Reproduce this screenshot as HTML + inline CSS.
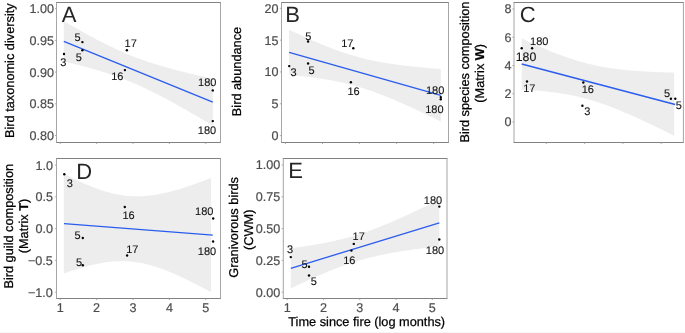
<!DOCTYPE html>
<html><head><meta charset="utf-8"><title>Figure</title>
<style>
html,body{margin:0;padding:0;background:#fff;}
body{width:685px;height:333px;overflow:hidden;}
svg{display:block;will-change:transform;opacity:0.999;}
svg text{font-family:"Liberation Sans",sans-serif;text-rendering:geometricPrecision;paint-order:stroke;stroke-width:0.25px;}
svg text.k{stroke:#000;} svg text.t{stroke:#4d4d4d;stroke-width:0.2px;} svg text.l{stroke:#111;stroke-width:0.1px;} svg text.p{stroke:none;}
</style></head><body>
<svg width="685" height="333" viewBox="0 0 685 333">
<rect width="685" height="333" fill="#ffffff"/>
<rect x="0" y="332" width="685" height="1" fill="#f7f7f7"/>
<clipPath id="ca"><rect x="56.50" y="2.50" width="164.00" height="140.00"/></clipPath>
<path d="M63.80,21.11 L66.28,22.56 L68.77,24.00 L71.25,25.43 L73.73,26.85 L76.22,28.27 L78.70,29.67 L81.18,31.06 L83.67,32.45 L86.15,33.82 L88.63,35.18 L91.12,36.52 L93.60,37.85 L96.08,39.16 L98.57,40.46 L101.05,41.74 L103.53,43.01 L106.02,44.25 L108.50,45.48 L110.98,46.68 L113.47,47.86 L115.95,49.02 L118.43,50.16 L120.92,51.27 L123.40,52.36 L125.88,53.42 L128.37,54.46 L130.85,55.47 L133.33,56.46 L135.82,57.42 L138.30,58.36 L140.78,59.27 L143.27,60.16 L145.75,61.03 L148.23,61.88 L150.72,62.70 L153.20,63.50 L155.68,64.28 L158.17,65.05 L160.65,65.79 L163.13,66.52 L165.62,67.23 L168.10,67.93 L170.58,68.62 L173.07,69.29 L175.55,69.94 L178.03,70.59 L180.52,71.22 L183.00,71.85 L185.48,72.46 L187.97,73.07 L190.45,73.66 L192.93,74.25 L195.42,74.83 L197.90,75.41 L200.38,75.97 L202.87,76.54 L205.35,77.09 L207.83,77.64 L210.32,78.19 L212.80,78.73 L212.80,125.67 L210.32,124.18 L207.83,122.70 L205.35,121.22 L202.87,119.74 L200.38,118.28 L197.90,116.81 L195.42,115.36 L192.93,113.91 L190.45,112.47 L187.97,111.03 L185.48,109.61 L183.00,108.19 L180.52,106.79 L178.03,105.39 L175.55,104.01 L173.07,102.63 L170.58,101.27 L168.10,99.93 L165.62,98.60 L163.13,97.28 L160.65,95.98 L158.17,94.69 L155.68,93.43 L153.20,92.18 L150.72,90.95 L148.23,89.74 L145.75,88.56 L143.27,87.40 L140.78,86.26 L138.30,85.14 L135.82,84.05 L133.33,82.98 L130.85,81.94 L128.37,80.92 L125.88,79.93 L123.40,78.96 L120.92,78.02 L118.43,77.10 L115.95,76.21 L113.47,75.34 L110.98,74.49 L108.50,73.66 L106.02,72.86 L103.53,72.07 L101.05,71.31 L98.57,70.56 L96.08,69.83 L93.60,69.11 L91.12,68.41 L88.63,67.72 L86.15,67.05 L83.67,66.39 L81.18,65.75 L78.70,65.11 L76.22,64.48 L73.73,63.87 L71.25,63.26 L68.77,62.66 L66.28,62.07 L63.80,61.49Z" fill="#ededed" clip-path="url(#ca)"/>
<line x1="63.80" y1="41.30" x2="212.80" y2="102.20" stroke="#2a5cee" stroke-width="1.3"/>
<circle cx="64.00" cy="54.00" r="1.2" fill="#000"/>
<circle cx="82.40" cy="42.10" r="1.2" fill="#000"/>
<circle cx="82.40" cy="50.20" r="1.2" fill="#000"/>
<circle cx="126.90" cy="50.20" r="1.2" fill="#000"/>
<circle cx="124.90" cy="70.10" r="1.2" fill="#000"/>
<circle cx="212.80" cy="90.40" r="1.2" fill="#000"/>
<circle cx="212.80" cy="121.10" r="1.2" fill="#000"/>
<text class="l" x="63.40" y="65.60" font-size="11" text-anchor="middle" fill="#111">3</text>
<text class="l" x="77.60" y="41.00" font-size="11" text-anchor="middle" fill="#111">5</text>
<text class="l" x="78.85" y="61.00" font-size="11" text-anchor="middle" fill="#111">5</text>
<text class="l" x="130.65" y="47.10" font-size="11" text-anchor="middle" fill="#111">17</text>
<text class="l" x="117.30" y="80.30" font-size="11" text-anchor="middle" fill="#111">16</text>
<text class="l" x="207.25" y="85.60" font-size="11" text-anchor="middle" fill="#111">180</text>
<text class="l" x="207.05" y="133.50" font-size="11" text-anchor="middle" fill="#111">180</text>
<path d="M56.00,2.50 H221.00 M56.00,142.50 H221.00" fill="none" stroke="#828282" stroke-width="1"/>
<path d="M56.50,2.50 V142.50 M220.50,2.50 V142.50" fill="none" stroke="#a6a6a6" stroke-width="1"/>
<line x1="54.90" y1="8.70" x2="56.50" y2="8.70" stroke="#999999" stroke-width="0.8"/>
<text class="t" x="53.90" y="13.15" font-size="12.6" text-anchor="end" fill="#4d4d4d">1.00</text>
<line x1="54.90" y1="40.40" x2="56.50" y2="40.40" stroke="#999999" stroke-width="0.8"/>
<text class="t" x="53.90" y="44.85" font-size="12.6" text-anchor="end" fill="#4d4d4d">0.95</text>
<line x1="54.90" y1="72.10" x2="56.50" y2="72.10" stroke="#999999" stroke-width="0.8"/>
<text class="t" x="53.90" y="76.55" font-size="12.6" text-anchor="end" fill="#4d4d4d">0.90</text>
<line x1="54.90" y1="103.80" x2="56.50" y2="103.80" stroke="#999999" stroke-width="0.8"/>
<text class="t" x="53.90" y="108.25" font-size="12.6" text-anchor="end" fill="#4d4d4d">0.85</text>
<line x1="54.90" y1="135.50" x2="56.50" y2="135.50" stroke="#999999" stroke-width="0.8"/>
<text class="t" x="53.90" y="139.95" font-size="12.6" text-anchor="end" fill="#4d4d4d">0.80</text>
<line x1="60.21" y1="142.50" x2="60.21" y2="144.10" stroke="#999999" stroke-width="0.8"/>
<line x1="96.60" y1="142.50" x2="96.60" y2="144.10" stroke="#999999" stroke-width="0.8"/>
<line x1="132.99" y1="142.50" x2="132.99" y2="144.10" stroke="#999999" stroke-width="0.8"/>
<line x1="169.39" y1="142.50" x2="169.39" y2="144.10" stroke="#999999" stroke-width="0.8"/>
<line x1="205.78" y1="142.50" x2="205.78" y2="144.10" stroke="#999999" stroke-width="0.8"/>
<text class="p" x="61.80" y="21.80" font-size="22" fill="#262626">A</text>
<text class="k" transform="translate(13.70,138.00) rotate(-90)" font-size="12.75" text-anchor="start" fill="#000">Bird taxonomic diversity</text>
<clipPath id="cb"><rect x="281.50" y="2.50" width="167.00" height="140.00"/></clipPath>
<path d="M289.10,29.69 L291.63,30.89 L294.16,32.08 L296.69,33.26 L299.21,34.44 L301.74,35.60 L304.27,36.75 L306.80,37.90 L309.33,39.02 L311.86,40.14 L314.38,41.24 L316.91,42.33 L319.44,43.39 L321.97,44.45 L324.50,45.48 L327.03,46.50 L329.55,47.49 L332.08,48.46 L334.61,49.42 L337.14,50.34 L339.67,51.25 L342.20,52.13 L344.72,52.98 L347.25,53.80 L349.78,54.60 L352.31,55.37 L354.84,56.11 L357.37,56.83 L359.89,57.52 L362.42,58.17 L364.95,58.80 L367.48,59.41 L370.01,59.98 L372.54,60.53 L375.06,61.06 L377.59,61.56 L380.12,62.04 L382.65,62.50 L385.18,62.93 L387.71,63.35 L390.23,63.74 L392.76,64.12 L395.29,64.48 L397.82,64.83 L400.35,65.16 L402.88,65.47 L405.40,65.78 L407.93,66.07 L410.46,66.35 L412.99,66.61 L415.52,66.87 L418.05,67.12 L420.57,67.36 L423.10,67.59 L425.63,67.81 L428.16,68.03 L430.69,68.24 L433.22,68.44 L435.74,68.64 L438.27,68.83 L440.80,69.01 L440.80,121.59 L438.27,120.34 L435.74,119.10 L433.22,117.86 L430.69,116.63 L428.16,115.40 L425.63,114.19 L423.10,112.98 L420.57,111.77 L418.05,110.58 L415.52,109.40 L412.99,108.22 L410.46,107.05 L407.93,105.90 L405.40,104.76 L402.88,103.63 L400.35,102.51 L397.82,101.41 L395.29,100.32 L392.76,99.25 L390.23,98.19 L387.71,97.15 L385.18,96.14 L382.65,95.14 L380.12,94.16 L377.59,93.20 L375.06,92.27 L372.54,91.37 L370.01,90.48 L367.48,89.63 L364.95,88.80 L362.42,87.99 L359.89,87.22 L357.37,86.47 L354.84,85.75 L352.31,85.06 L349.78,84.40 L347.25,83.76 L344.72,83.16 L342.20,82.57 L339.67,82.02 L337.14,81.49 L334.61,80.98 L332.08,80.50 L329.55,80.04 L327.03,79.60 L324.50,79.19 L321.97,78.79 L319.44,78.41 L316.91,78.04 L314.38,77.69 L311.86,77.36 L309.33,77.04 L306.80,76.74 L304.27,76.45 L301.74,76.16 L299.21,75.89 L296.69,75.64 L294.16,75.39 L291.63,75.15 L289.10,74.91Z" fill="#ededed" clip-path="url(#cb)"/>
<line x1="289.10" y1="52.30" x2="440.80" y2="95.30" stroke="#2a5cee" stroke-width="1.3"/>
<circle cx="289.20" cy="66.10" r="1.2" fill="#000"/>
<circle cx="308.10" cy="41.50" r="1.2" fill="#000"/>
<circle cx="308.10" cy="63.50" r="1.2" fill="#000"/>
<circle cx="353.30" cy="48.20" r="1.2" fill="#000"/>
<circle cx="350.90" cy="82.30" r="1.2" fill="#000"/>
<circle cx="440.80" cy="97.10" r="1.2" fill="#000"/>
<circle cx="440.80" cy="99.20" r="1.2" fill="#000"/>
<text class="l" x="293.65" y="75.80" font-size="11" text-anchor="middle" fill="#111">3</text>
<text class="l" x="308.30" y="39.50" font-size="11" text-anchor="middle" fill="#111">5</text>
<text class="l" x="311.50" y="74.30" font-size="11" text-anchor="middle" fill="#111">5</text>
<text class="l" x="347.30" y="47.00" font-size="11" text-anchor="middle" fill="#111">17</text>
<text class="l" x="353.55" y="94.70" font-size="11" text-anchor="middle" fill="#111">16</text>
<text class="l" x="435.10" y="94.10" font-size="11" text-anchor="middle" fill="#111">180</text>
<text class="l" x="434.35" y="112.50" font-size="11" text-anchor="middle" fill="#111">180</text>
<path d="M281.00,2.50 H449.00 M281.00,142.50 H449.00" fill="none" stroke="#828282" stroke-width="1"/>
<path d="M281.50,2.50 V142.50 M448.50,2.50 V142.50" fill="none" stroke="#a6a6a6" stroke-width="1"/>
<line x1="279.90" y1="8.30" x2="281.50" y2="8.30" stroke="#999999" stroke-width="0.8"/>
<text class="t" x="278.50" y="12.75" font-size="12.6" text-anchor="end" fill="#4d4d4d">20</text>
<line x1="279.90" y1="40.13" x2="281.50" y2="40.13" stroke="#999999" stroke-width="0.8"/>
<text class="t" x="278.50" y="44.58" font-size="12.6" text-anchor="end" fill="#4d4d4d">15</text>
<line x1="279.90" y1="71.96" x2="281.50" y2="71.96" stroke="#999999" stroke-width="0.8"/>
<text class="t" x="278.50" y="76.41" font-size="12.6" text-anchor="end" fill="#4d4d4d">10</text>
<line x1="279.90" y1="103.79" x2="281.50" y2="103.79" stroke="#999999" stroke-width="0.8"/>
<text class="t" x="278.50" y="108.24" font-size="12.6" text-anchor="end" fill="#4d4d4d">5</text>
<line x1="279.90" y1="135.62" x2="281.50" y2="135.62" stroke="#999999" stroke-width="0.8"/>
<text class="t" x="278.50" y="140.07" font-size="12.6" text-anchor="end" fill="#4d4d4d">0</text>
<line x1="285.45" y1="142.50" x2="285.45" y2="144.10" stroke="#999999" stroke-width="0.8"/>
<line x1="322.50" y1="142.50" x2="322.50" y2="144.10" stroke="#999999" stroke-width="0.8"/>
<line x1="359.55" y1="142.50" x2="359.55" y2="144.10" stroke="#999999" stroke-width="0.8"/>
<line x1="396.60" y1="142.50" x2="396.60" y2="144.10" stroke="#999999" stroke-width="0.8"/>
<line x1="433.65" y1="142.50" x2="433.65" y2="144.10" stroke="#999999" stroke-width="0.8"/>
<text class="p" x="285.20" y="22.00" font-size="22" fill="#262626">B</text>
<text class="k" transform="translate(241.40,116.20) rotate(-90)" font-size="12.75" text-anchor="start" fill="#000">Bird abundance</text>
<clipPath id="cc"><rect x="514.00" y="2.50" width="169.40" height="140.00"/></clipPath>
<path d="M521.70,38.40 L524.24,39.60 L526.78,40.79 L529.33,41.97 L531.87,43.14 L534.41,44.29 L536.95,45.43 L539.49,46.55 L542.03,47.66 L544.58,48.75 L547.12,49.82 L549.66,50.88 L552.20,51.91 L554.74,52.92 L557.28,53.91 L559.83,54.87 L562.37,55.81 L564.91,56.73 L567.45,57.62 L569.99,58.48 L572.53,59.31 L575.08,60.11 L577.62,60.88 L580.16,61.62 L582.70,62.34 L585.24,63.01 L587.78,63.66 L590.33,64.28 L592.87,64.87 L595.41,65.42 L597.95,65.95 L600.49,66.45 L603.03,66.91 L605.58,67.36 L608.12,67.77 L610.66,68.16 L613.20,68.53 L615.74,68.87 L618.28,69.19 L620.83,69.49 L623.37,69.77 L625.91,70.03 L628.45,70.27 L630.99,70.50 L633.53,70.71 L636.08,70.91 L638.62,71.09 L641.16,71.26 L643.70,71.41 L646.24,71.56 L648.78,71.69 L651.33,71.82 L653.87,71.93 L656.41,72.04 L658.95,72.14 L661.49,72.23 L664.03,72.31 L666.58,72.39 L669.12,72.46 L671.66,72.52 L674.20,72.58 L674.20,135.90 L671.66,134.61 L669.12,133.33 L666.58,132.06 L664.03,130.80 L661.49,129.54 L658.95,128.29 L656.41,127.04 L653.87,125.81 L651.33,124.58 L648.78,123.37 L646.24,122.16 L643.70,120.96 L641.16,119.78 L638.62,118.61 L636.08,117.45 L633.53,116.30 L630.99,115.17 L628.45,114.06 L625.91,112.96 L623.37,111.88 L620.83,110.82 L618.28,109.78 L615.74,108.76 L613.20,107.76 L610.66,106.78 L608.12,105.83 L605.58,104.90 L603.03,104.00 L600.49,103.13 L597.95,102.29 L595.41,101.47 L592.87,100.69 L590.33,99.93 L587.78,99.21 L585.24,98.52 L582.70,97.85 L580.16,97.22 L577.62,96.62 L575.08,96.05 L572.53,95.52 L569.99,95.01 L567.45,94.52 L564.91,94.07 L562.37,93.64 L559.83,93.24 L557.28,92.87 L554.74,92.52 L552.20,92.19 L549.66,91.88 L547.12,91.59 L544.58,91.32 L542.03,91.07 L539.49,90.84 L536.95,90.62 L534.41,90.42 L531.87,90.23 L529.33,90.05 L526.78,89.89 L524.24,89.74 L521.70,89.60Z" fill="#ededed" clip-path="url(#cc)"/>
<line x1="521.70" y1="64.00" x2="675.20" y2="104.50" stroke="#2a5cee" stroke-width="1.3"/>
<circle cx="521.70" cy="48.30" r="1.2" fill="#000"/>
<circle cx="532.10" cy="48.30" r="1.2" fill="#000"/>
<circle cx="527.00" cy="81.50" r="1.2" fill="#000"/>
<circle cx="583.30" cy="82.50" r="1.2" fill="#000"/>
<circle cx="582.40" cy="105.70" r="1.2" fill="#000"/>
<circle cx="670.90" cy="98.70" r="1.2" fill="#000"/>
<circle cx="675.30" cy="98.70" r="1.2" fill="#000"/>
<text class="l" x="539.30" y="45.40" font-size="11" text-anchor="middle" fill="#111">180</text>
<text class="l" x="526.00" y="60.70" font-size="12.3" text-anchor="middle" fill="#111">180</text>
<text class="l" x="529.35" y="92.20" font-size="11" text-anchor="middle" fill="#111">17</text>
<text class="l" x="587.75" y="93.30" font-size="11" text-anchor="middle" fill="#111">16</text>
<text class="l" x="587.20" y="115.10" font-size="11" text-anchor="middle" fill="#111">3</text>
<text class="l" x="667.00" y="96.70" font-size="11" text-anchor="middle" fill="#111">5</text>
<text class="l" x="678.90" y="109.40" font-size="11" text-anchor="middle" fill="#111">5</text>
<path d="M513.50,2.50 H683.90 M513.50,142.50 H683.90" fill="none" stroke="#828282" stroke-width="1"/>
<path d="M514.00,2.50 V142.50 M683.40,2.50 V142.50" fill="none" stroke="#a6a6a6" stroke-width="1"/>
<line x1="512.40" y1="9.00" x2="514.00" y2="9.00" stroke="#999999" stroke-width="0.8"/>
<text class="t" x="511.40" y="13.45" font-size="12.6" text-anchor="end" fill="#4d4d4d">8</text>
<line x1="512.40" y1="37.25" x2="514.00" y2="37.25" stroke="#999999" stroke-width="0.8"/>
<text class="t" x="511.40" y="41.70" font-size="12.6" text-anchor="end" fill="#4d4d4d">6</text>
<line x1="512.40" y1="65.50" x2="514.00" y2="65.50" stroke="#999999" stroke-width="0.8"/>
<text class="t" x="511.40" y="69.95" font-size="12.6" text-anchor="end" fill="#4d4d4d">4</text>
<line x1="512.40" y1="93.75" x2="514.00" y2="93.75" stroke="#999999" stroke-width="0.8"/>
<text class="t" x="511.40" y="98.20" font-size="12.6" text-anchor="end" fill="#4d4d4d">2</text>
<line x1="512.40" y1="122.00" x2="514.00" y2="122.00" stroke="#999999" stroke-width="0.8"/>
<text class="t" x="511.40" y="126.45" font-size="12.6" text-anchor="end" fill="#4d4d4d">0</text>
<line x1="546.30" y1="142.50" x2="546.30" y2="144.10" stroke="#999999" stroke-width="0.8"/>
<line x1="584.60" y1="142.50" x2="584.60" y2="144.10" stroke="#999999" stroke-width="0.8"/>
<line x1="622.90" y1="142.50" x2="622.90" y2="144.10" stroke="#999999" stroke-width="0.8"/>
<line x1="661.20" y1="142.50" x2="661.20" y2="144.10" stroke="#999999" stroke-width="0.8"/>
<text class="p" x="519.80" y="22.40" font-size="22" fill="#262626">C</text>
<text class="k" transform="translate(469.20,142.60) rotate(-90)" font-size="12.75" text-anchor="start" fill="#000">Bird species composition</text>
<text class="k" transform="translate(484.20,73.30) rotate(-90)" font-size="12.75" text-anchor="middle" fill="#000">(Matrix <tspan font-weight="bold">W</tspan>)</text>
<clipPath id="cd"><rect x="56.50" y="158.50" width="164.00" height="140.00"/></clipPath>
<path d="M63.80,173.79 L66.25,175.03 L68.71,176.26 L71.16,177.47 L73.62,178.66 L76.08,179.82 L78.53,180.97 L80.98,182.08 L83.44,183.17 L85.89,184.24 L88.35,185.27 L90.81,186.26 L93.26,187.23 L95.72,188.16 L98.17,189.05 L100.62,189.89 L103.08,190.70 L105.53,191.46 L107.99,192.17 L110.44,192.83 L112.90,193.44 L115.35,193.99 L117.81,194.49 L120.27,194.94 L122.72,195.32 L125.18,195.64 L127.63,195.91 L130.09,196.11 L132.54,196.25 L135.00,196.34 L137.45,196.36 L139.91,196.32 L142.36,196.23 L144.81,196.07 L147.27,195.87 L149.72,195.61 L152.18,195.30 L154.63,194.94 L157.09,194.54 L159.55,194.09 L162.00,193.59 L164.45,193.06 L166.91,192.50 L169.37,191.89 L171.82,191.25 L174.28,190.59 L176.73,189.89 L179.19,189.16 L181.64,188.41 L184.10,187.63 L186.55,186.83 L189.00,186.01 L191.46,185.17 L193.92,184.31 L196.37,183.44 L198.82,182.54 L201.28,181.64 L203.74,180.71 L206.19,179.77 L208.64,178.82 L211.10,177.86 L211.10,292.27 L208.64,290.93 L206.19,289.60 L203.74,288.29 L201.28,286.98 L198.82,285.70 L196.37,284.42 L193.92,283.17 L191.46,281.93 L189.00,280.71 L186.55,279.51 L184.10,278.33 L181.64,277.17 L179.19,276.04 L176.73,274.94 L174.28,273.86 L171.82,272.81 L169.37,271.79 L166.91,270.81 L164.45,269.86 L162.00,268.95 L159.55,268.08 L157.09,267.25 L154.63,266.47 L152.18,265.73 L149.72,265.04 L147.27,264.40 L144.81,263.82 L142.36,263.29 L139.91,262.81 L137.45,262.40 L135.00,262.04 L132.54,261.74 L130.09,261.50 L127.63,261.33 L125.18,261.21 L122.72,261.16 L120.27,261.16 L117.81,261.22 L115.35,261.34 L112.90,261.52 L110.44,261.75 L107.99,262.03 L105.53,262.36 L103.08,262.74 L100.62,263.17 L98.17,263.64 L95.72,264.15 L93.26,264.69 L90.81,265.28 L88.35,265.90 L85.89,266.55 L83.44,267.23 L80.98,267.94 L78.53,268.68 L76.08,269.44 L73.62,270.23 L71.16,271.04 L68.71,271.87 L66.25,272.72 L63.80,273.58Z" fill="#ededed" clip-path="url(#cd)"/>
<line x1="64.00" y1="223.70" x2="212.80" y2="235.20" stroke="#2a5cee" stroke-width="1.3"/>
<circle cx="64.30" cy="174.30" r="1.2" fill="#000"/>
<circle cx="124.80" cy="207.00" r="1.2" fill="#000"/>
<circle cx="82.80" cy="238.00" r="1.2" fill="#000"/>
<circle cx="82.80" cy="265.20" r="1.2" fill="#000"/>
<circle cx="127.10" cy="255.50" r="1.2" fill="#000"/>
<circle cx="213.20" cy="218.50" r="1.2" fill="#000"/>
<circle cx="213.10" cy="241.50" r="1.2" fill="#000"/>
<text class="l" x="69.70" y="187.30" font-size="11" text-anchor="middle" fill="#111">3</text>
<text class="l" x="128.55" y="218.50" font-size="11" text-anchor="middle" fill="#111">16</text>
<text class="l" x="77.50" y="239.00" font-size="11" text-anchor="middle" fill="#111">5</text>
<text class="l" x="79.00" y="265.60" font-size="11" text-anchor="middle" fill="#111">5</text>
<text class="l" x="132.35" y="252.90" font-size="11" text-anchor="middle" fill="#111">17</text>
<text class="l" x="204.30" y="215.00" font-size="11" text-anchor="middle" fill="#111">180</text>
<text class="l" x="207.05" y="254.60" font-size="11" text-anchor="middle" fill="#111">180</text>
<path d="M56.00,158.50 H221.00 M56.00,298.50 H221.00" fill="none" stroke="#828282" stroke-width="1"/>
<path d="M56.50,158.50 V298.50 M220.50,158.50 V298.50" fill="none" stroke="#a6a6a6" stroke-width="1"/>
<line x1="54.90" y1="165.10" x2="56.50" y2="165.10" stroke="#999999" stroke-width="0.8"/>
<text class="t" x="52.90" y="169.55" font-size="12.6" text-anchor="end" fill="#4d4d4d">1.0</text>
<line x1="54.90" y1="196.85" x2="56.50" y2="196.85" stroke="#999999" stroke-width="0.8"/>
<text class="t" x="52.90" y="201.30" font-size="12.6" text-anchor="end" fill="#4d4d4d">0.5</text>
<line x1="54.90" y1="228.60" x2="56.50" y2="228.60" stroke="#999999" stroke-width="0.8"/>
<text class="t" x="52.90" y="233.05" font-size="12.6" text-anchor="end" fill="#4d4d4d">0.0</text>
<line x1="54.90" y1="260.35" x2="56.50" y2="260.35" stroke="#999999" stroke-width="0.8"/>
<text class="t" x="52.90" y="264.80" font-size="12.6" text-anchor="end" fill="#4d4d4d">−0.5</text>
<line x1="54.90" y1="292.10" x2="56.50" y2="292.10" stroke="#999999" stroke-width="0.8"/>
<text class="t" x="52.90" y="296.55" font-size="12.6" text-anchor="end" fill="#4d4d4d">−1.0</text>
<line x1="60.21" y1="298.50" x2="60.21" y2="300.10" stroke="#999999" stroke-width="0.8"/>
<text class="t" x="60.21" y="311.70" font-size="12.6" text-anchor="middle" fill="#4d4d4d">1</text>
<line x1="96.60" y1="298.50" x2="96.60" y2="300.10" stroke="#999999" stroke-width="0.8"/>
<text class="t" x="96.60" y="311.70" font-size="12.6" text-anchor="middle" fill="#4d4d4d">2</text>
<line x1="132.99" y1="298.50" x2="132.99" y2="300.10" stroke="#999999" stroke-width="0.8"/>
<text class="t" x="132.99" y="311.70" font-size="12.6" text-anchor="middle" fill="#4d4d4d">3</text>
<line x1="169.39" y1="298.50" x2="169.39" y2="300.10" stroke="#999999" stroke-width="0.8"/>
<text class="t" x="169.39" y="311.70" font-size="12.6" text-anchor="middle" fill="#4d4d4d">4</text>
<line x1="205.78" y1="298.50" x2="205.78" y2="300.10" stroke="#999999" stroke-width="0.8"/>
<text class="t" x="205.78" y="311.70" font-size="12.6" text-anchor="middle" fill="#4d4d4d">5</text>
<text class="p" x="76.30" y="178.60" font-size="22" fill="#262626">D</text>
<text class="k" transform="translate(12.80,288.60) rotate(-90)" font-size="12.75" text-anchor="start" fill="#000">Bird guild composition</text>
<text class="k" transform="translate(27.50,226.00) rotate(-90)" font-size="12.75" text-anchor="middle" fill="#000">(Matrix <tspan font-weight="bold">T</tspan>)</text>
<clipPath id="ce"><rect x="283.30" y="158.50" width="163.70" height="140.00"/></clipPath>
<path d="M290.80,248.25 L293.28,247.93 L295.75,247.59 L298.23,247.25 L300.70,246.90 L303.18,246.54 L305.65,246.17 L308.12,245.79 L310.60,245.40 L313.07,244.99 L315.55,244.58 L318.03,244.15 L320.50,243.70 L322.98,243.24 L325.45,242.77 L327.93,242.28 L330.40,241.77 L332.88,241.24 L335.35,240.69 L337.82,240.12 L340.30,239.53 L342.78,238.91 L345.25,238.28 L347.73,237.62 L350.20,236.93 L352.68,236.22 L355.15,235.49 L357.62,234.73 L360.10,233.95 L362.58,233.14 L365.05,232.31 L367.52,231.45 L370.00,230.57 L372.48,229.66 L374.95,228.74 L377.43,227.79 L379.90,226.82 L382.38,225.84 L384.85,224.83 L387.33,223.81 L389.80,222.76 L392.27,221.71 L394.75,220.64 L397.23,219.55 L399.70,218.45 L402.18,217.34 L404.65,216.22 L407.12,215.08 L409.60,213.94 L412.08,212.78 L414.55,211.62 L417.02,210.45 L419.50,209.27 L421.98,208.08 L424.45,206.88 L426.93,205.68 L429.40,204.48 L431.88,203.26 L434.35,202.05 L436.83,200.82 L439.30,199.60 L439.30,246.20 L436.83,246.49 L434.35,246.78 L431.88,247.08 L429.40,247.38 L426.93,247.68 L424.45,248.00 L421.98,248.31 L419.50,248.64 L417.02,248.97 L414.55,249.31 L412.08,249.66 L409.60,250.02 L407.12,250.39 L404.65,250.77 L402.18,251.16 L399.70,251.56 L397.23,251.98 L394.75,252.40 L392.27,252.85 L389.80,253.30 L387.33,253.77 L384.85,254.26 L382.38,254.77 L379.90,255.30 L377.43,255.84 L374.95,256.41 L372.48,257.00 L370.00,257.61 L367.52,258.24 L365.05,258.89 L362.58,259.57 L360.10,260.28 L357.62,261.01 L355.15,261.76 L352.68,262.54 L350.20,263.35 L347.73,264.18 L345.25,265.03 L342.78,265.91 L340.30,266.81 L337.82,267.73 L335.35,268.67 L332.88,269.64 L330.40,270.62 L327.93,271.62 L325.45,272.65 L322.98,273.68 L320.50,274.74 L318.03,275.81 L315.55,276.89 L313.07,277.99 L310.60,279.10 L308.12,280.22 L305.65,281.35 L303.18,282.50 L300.70,283.65 L298.23,284.81 L295.75,285.98 L293.28,287.16 L290.80,288.35Z" fill="#ededed" clip-path="url(#ce)"/>
<line x1="290.80" y1="268.30" x2="439.30" y2="222.90" stroke="#2a5cee" stroke-width="1.3"/>
<circle cx="290.80" cy="257.10" r="1.2" fill="#000"/>
<circle cx="309.00" cy="266.80" r="1.2" fill="#000"/>
<circle cx="309.00" cy="275.50" r="1.2" fill="#000"/>
<circle cx="353.80" cy="243.90" r="1.2" fill="#000"/>
<circle cx="351.40" cy="250.60" r="1.2" fill="#000"/>
<circle cx="439.30" cy="206.60" r="1.2" fill="#000"/>
<circle cx="439.30" cy="239.50" r="1.2" fill="#000"/>
<text class="l" x="289.95" y="253.30" font-size="11" text-anchor="middle" fill="#111">3</text>
<text class="l" x="304.55" y="267.60" font-size="11" text-anchor="middle" fill="#111">5</text>
<text class="l" x="313.80" y="284.60" font-size="11" text-anchor="middle" fill="#111">5</text>
<text class="l" x="358.70" y="239.60" font-size="11" text-anchor="middle" fill="#111">17</text>
<text class="l" x="349.30" y="264.30" font-size="11" text-anchor="middle" fill="#111">16</text>
<text class="l" x="433.05" y="204.00" font-size="11" text-anchor="middle" fill="#111">180</text>
<text class="l" x="435.00" y="253.60" font-size="11" text-anchor="middle" fill="#111">180</text>
<path d="M282.80,158.50 H447.50 M282.80,298.50 H447.50" fill="none" stroke="#828282" stroke-width="1"/>
<path d="M283.30,158.50 V298.50 M447.00,158.50 V298.50" fill="none" stroke="#a6a6a6" stroke-width="1"/>
<line x1="281.70" y1="165.00" x2="283.30" y2="165.00" stroke="#999999" stroke-width="0.8"/>
<text class="t" x="280.30" y="169.45" font-size="12.6" text-anchor="end" fill="#4d4d4d">1.00</text>
<line x1="281.70" y1="196.80" x2="283.30" y2="196.80" stroke="#999999" stroke-width="0.8"/>
<text class="t" x="280.30" y="201.25" font-size="12.6" text-anchor="end" fill="#4d4d4d">0.75</text>
<line x1="281.70" y1="228.60" x2="283.30" y2="228.60" stroke="#999999" stroke-width="0.8"/>
<text class="t" x="280.30" y="233.05" font-size="12.6" text-anchor="end" fill="#4d4d4d">0.50</text>
<line x1="281.70" y1="260.40" x2="283.30" y2="260.40" stroke="#999999" stroke-width="0.8"/>
<text class="t" x="280.30" y="264.85" font-size="12.6" text-anchor="end" fill="#4d4d4d">0.25</text>
<line x1="281.70" y1="292.20" x2="283.30" y2="292.20" stroke="#999999" stroke-width="0.8"/>
<text class="t" x="280.30" y="296.65" font-size="12.6" text-anchor="end" fill="#4d4d4d">0.00</text>
<line x1="287.22" y1="298.50" x2="287.22" y2="300.10" stroke="#999999" stroke-width="0.8"/>
<text class="t" x="287.22" y="311.70" font-size="12.6" text-anchor="middle" fill="#4d4d4d">1</text>
<line x1="323.49" y1="298.50" x2="323.49" y2="300.10" stroke="#999999" stroke-width="0.8"/>
<text class="t" x="323.49" y="311.70" font-size="12.6" text-anchor="middle" fill="#4d4d4d">2</text>
<line x1="359.76" y1="298.50" x2="359.76" y2="300.10" stroke="#999999" stroke-width="0.8"/>
<text class="t" x="359.76" y="311.70" font-size="12.6" text-anchor="middle" fill="#4d4d4d">3</text>
<line x1="396.03" y1="298.50" x2="396.03" y2="300.10" stroke="#999999" stroke-width="0.8"/>
<text class="t" x="396.03" y="311.70" font-size="12.6" text-anchor="middle" fill="#4d4d4d">4</text>
<line x1="432.30" y1="298.50" x2="432.30" y2="300.10" stroke="#999999" stroke-width="0.8"/>
<text class="t" x="432.30" y="311.70" font-size="12.6" text-anchor="middle" fill="#4d4d4d">5</text>
<text class="p" x="288.20" y="177.90" font-size="22" fill="#262626">E</text>
<text class="k" transform="translate(238.40,277.70) rotate(-90)" font-size="12.75" text-anchor="start" fill="#000">Granivorous birds</text>
<text class="k" transform="translate(252.90,229.80) rotate(-90)" font-size="12.75" text-anchor="middle" fill="#000">(CWM)</text>
<text class="k" x="288.30" y="326.30" font-size="12.75" fill="#000">Time since fire (log months)</text>
</svg>
</body></html>
